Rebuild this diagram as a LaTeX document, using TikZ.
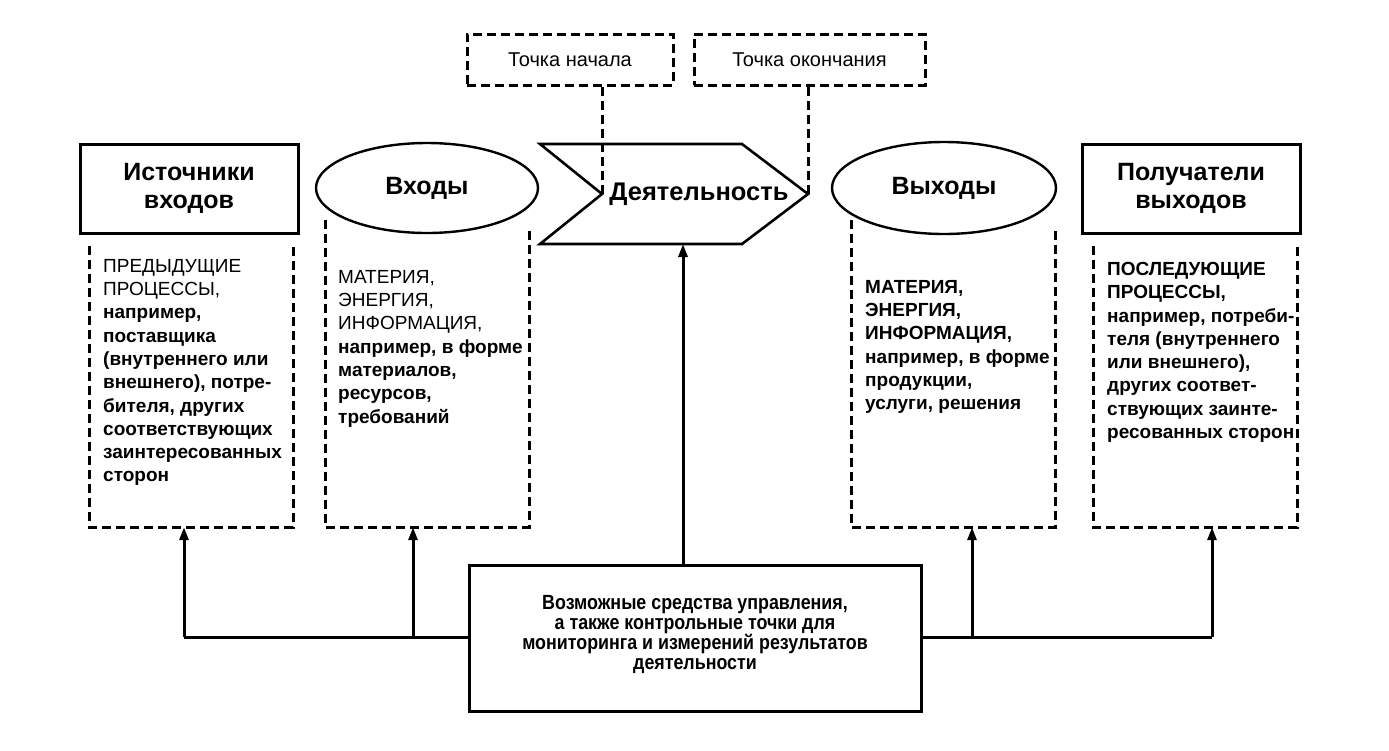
\documentclass[tikz,border=0pt]{standalone}
\usepackage{fontspec}
\setmainfont{Liberation Sans}
\newfontfamily\narrowfont[FakeStretch=0.87]{Liberation Sans}
\usetikzlibrary{arrows.meta,shapes.geometric}
\begin{document}
\begin{tikzpicture}[x=1pt,y=-1pt,
  solidbox/.style={draw, line width=3pt, inner sep=0pt},
  dashline/.style={draw, line width=3pt, dash pattern=on 9pt off 5pt},
  dashbox/.style={dashline, inner sep=0pt},
  oval/.style={draw, ellipse, line width=2.4pt, inner sep=0pt},
  head/.style={font=\fontsize{25}{28}\selectfont\bfseries, align=center},
  body/.style={font=\fontsize{19}{23.3}\selectfont, align=left, inner sep=0pt, anchor=north west},
  area/.style={inner sep=0pt},
  conn/.style={line width=3pt},
  arr/.style={conn, -{Triangle[length=13pt,width=9pt]}},
  ]
\useasboundingbox[fill=white] (0,0) rectangle (1389,750);

% top boxes
\node[dashbox, minimum width=206pt, minimum height=51pt, font=\fontsize{20}{22}\selectfont] (start) at (570,59.5) {Точка начала};
\node[dashbox, minimum width=231pt, minimum height=51pt, font=\fontsize{20}{22}\selectfont] (finish) at (809.5,59.5) {Точка окончания};

% chevron
\coordinate (c1) at (540,144);
\coordinate (c2) at (742,144);
\coordinate (c3) at (808,194);
\coordinate (c4) at (742,244);
\coordinate (c5) at (540,244);
\coordinate (c6) at (602,194);
\coordinate (cb) at (683,244);
\draw[line width=2.6pt, line join=miter] (c1) -- (c2) -- (c3) -- (c4) -- (c5) -- (c6) -- cycle;
\node[font=\fontsize{25.5}{28}\selectfont\bfseries] (act) at (699,194) {Деятельность};

\draw[dashline] (start.south -| c6) -- (c6);
\draw[dashline] (finish.south -| c3) -- (c3);

% sources
\node[solidbox, head, minimum width=218pt, minimum height=89pt] (src) at (189,188.5) {Источники\\входов};
\node[area, minimum width=203pt, minimum height=281pt] (srcarea) at (191.5,386.5) {};
\draw[dashline] (srcarea.north west) -- (srcarea.south west) -- (srcarea.south east) -- (srcarea.north east);
\node[body] (srctext) at (103,259) {ПРЕДЫДУЩИЕ\\ПРОЦЕССЫ,\\\textbf{например,}\\\textbf{поставщика}\\\textbf{(внутреннего или}\\\textbf{внешнего), потре-}\\\textbf{бителя, других}\\\textbf{соответствующих}\\\textbf{заинтересованных}\\\textbf{сторон}};

% inputs
\node[oval, head, minimum width=222pt, minimum height=90pt] (in) at (427,188) {Входы};
\node[area, minimum width=203pt, minimum height=307pt] (inarea) at (427.5,373.5) {};
\draw[dashline] (inarea.north west) -- (inarea.south west) -- (inarea.south east) -- ([yshift=-7pt]inarea.north east);
\node[body] (intext) at (338,270) {МАТЕРИЯ,\\ЭНЕРГИЯ,\\ИНФОРМАЦИЯ,\\\textbf{например, в форме}\\\textbf{материалов,}\\\textbf{ресурсов,}\\\textbf{требований}};

% outputs
\node[oval, head, minimum width=224pt, minimum height=92pt] (out) at (944,188) {Выходы};
\node[area, minimum width=203pt, minimum height=307pt] (outarea) at (953.5,373.5) {};
\draw[dashline] (outarea.north west) -- (outarea.south west) -- (outarea.south east) -- ([yshift=-7pt]outarea.north east);
\node[body, font=\fontsize{19}{23.3}\selectfont\bfseries] (outtext) at (865,280) {МАТЕРИЯ,\\ЭНЕРГИЯ,\\ИНФОРМАЦИЯ,\\например, в форме\\продукции,\\услуги, решения};

% recipients
\node[solidbox, head, minimum width=218pt, minimum height=89pt] (rec) at (1191,188.5) {Получатели\\выходов};
\node[area, minimum width=203pt, minimum height=281pt] (recarea) at (1195.5,386.5) {};
\draw[dashline] (recarea.north west) -- (recarea.south west) -- (recarea.south east) -- (recarea.north east);
\node[body, font=\fontsize{19}{23.3}\selectfont\bfseries] (rectext) at (1107,262) {ПОСЛЕДУЮЩИЕ\\ПРОЦЕССЫ,\\например, потреби-\\теля (внутреннего\\или внешнего),\\других соответ-\\ствующих заинте-\\ресованных сторон};

% control box
\node[solidbox, minimum width=452pt, minimum height=146pt] (ctrl) at (695,638) {};
\node[align=center, inner sep=0pt, font=\narrowfont\fontsize{20.5}{20}\selectfont\bfseries] (ctrltext) at (695,634) {Возможные средства управления,\\а также контрольные точки для\\мониторинга и измерений результатов\\деятельности};

\draw[arr] (cb |- ctrl.north) -- (cb);

\coordinate (hl) at (184,637);
\coordinate (a2) at (413,637);
\coordinate (a3) at (972,637);
\coordinate (hr) at (1212,637);
\draw[conn] (ctrl.west |- hl) -- (hl);
\draw[arr] (hl) -- (hl |- srcarea.south);
\draw[arr] (a2) -- (a2 |- inarea.south);
\draw[conn] (ctrl.east |- hr) -- (hr);
\draw[arr] (a3) -- (a3 |- outarea.south);
\draw[arr] (hr) -- (hr |- recarea.south);
\end{tikzpicture}
\end{document}
